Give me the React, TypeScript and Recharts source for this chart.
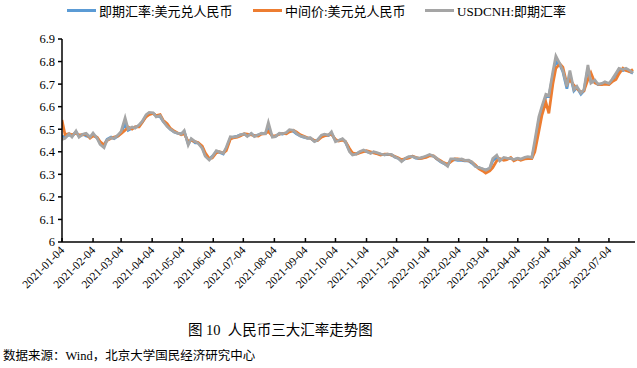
import React from "react";
import { Line, LineChart, XAxis, YAxis } from "recharts";

// sample dates (Mon / Thu), one line per month
const dates = [
  "2021-01-04", "2021-01-07", "2021-01-11", "2021-01-14", "2021-01-18", "2021-01-21", "2021-01-25", "2021-01-28",
  "2021-02-01", "2021-02-04", "2021-02-08", "2021-02-11", "2021-02-15", "2021-02-18", "2021-02-22", "2021-02-25",
  "2021-03-01", "2021-03-04", "2021-03-08", "2021-03-11", "2021-03-15", "2021-03-18", "2021-03-22", "2021-03-25", "2021-03-29",
  "2021-04-01", "2021-04-05", "2021-04-08", "2021-04-12", "2021-04-15", "2021-04-19", "2021-04-22", "2021-04-26", "2021-04-29",
  "2021-05-03", "2021-05-06", "2021-05-10", "2021-05-13", "2021-05-17", "2021-05-20", "2021-05-24", "2021-05-27", "2021-05-31",
  "2021-06-03", "2021-06-07", "2021-06-10", "2021-06-14", "2021-06-17", "2021-06-21", "2021-06-24", "2021-06-28",
  "2021-07-01", "2021-07-05", "2021-07-08", "2021-07-12", "2021-07-15", "2021-07-19", "2021-07-22", "2021-07-26", "2021-07-29",
  "2021-08-02", "2021-08-05", "2021-08-09", "2021-08-12", "2021-08-16", "2021-08-19", "2021-08-23", "2021-08-26", "2021-08-30",
  "2021-09-02", "2021-09-06", "2021-09-09", "2021-09-13", "2021-09-16", "2021-09-20", "2021-09-23", "2021-09-27", "2021-09-30",
  "2021-10-04", "2021-10-07", "2021-10-11", "2021-10-14", "2021-10-18", "2021-10-21", "2021-10-25", "2021-10-28",
  "2021-11-01", "2021-11-04", "2021-11-08", "2021-11-11", "2021-11-15", "2021-11-18", "2021-11-22", "2021-11-25", "2021-11-29",
  "2021-12-02", "2021-12-06", "2021-12-09", "2021-12-13", "2021-12-16", "2021-12-20", "2021-12-23", "2021-12-27", "2021-12-30",
  "2022-01-03", "2022-01-06", "2022-01-10", "2022-01-13", "2022-01-17", "2022-01-20", "2022-01-24", "2022-01-27", "2022-01-31",
  "2022-02-03", "2022-02-07", "2022-02-10", "2022-02-14", "2022-02-17", "2022-02-21", "2022-02-24", "2022-02-28",
  "2022-03-03", "2022-03-07", "2022-03-10", "2022-03-14", "2022-03-17", "2022-03-21", "2022-03-24", "2022-03-28", "2022-03-31",
  "2022-04-04", "2022-04-07", "2022-04-11", "2022-04-14", "2022-04-18", "2022-04-21", "2022-04-25", "2022-04-28",
  "2022-05-02", "2022-05-05", "2022-05-09", "2022-05-12", "2022-05-16", "2022-05-19", "2022-05-23", "2022-05-26", "2022-05-30",
  "2022-06-02", "2022-06-06", "2022-06-09", "2022-06-13", "2022-06-16", "2022-06-20", "2022-06-23", "2022-06-27", "2022-06-30",
  "2022-07-04", "2022-07-07", "2022-07-11", "2022-07-14", "2022-07-18", "2022-07-21", "2022-07-25", "2022-07-28",
];

// 即期汇率:美元兑人民币
const spot = [
  6.47, 6.465, 6.475, 6.47, 6.488, 6.47, 6.478, 6.47,
  6.465, 6.475, 6.462, 6.44, 6.43, 6.455, 6.465, 6.458,
  6.47, 6.485, 6.525, 6.495, 6.505, 6.51, 6.515, 6.53, 6.56,
  6.57, 6.57, 6.56, 6.555, 6.535, 6.515, 6.5, 6.488, 6.482,
  6.48, 6.49, 6.435, 6.455, 6.44, 6.44, 6.42, 6.385, 6.368,
  6.38, 6.4, 6.398, 6.39, 6.415, 6.46, 6.465, 6.47,
  6.475, 6.478, 6.47, 6.48, 6.47, 6.475, 6.48, 6.482, 6.505,
  6.467, 6.468, 6.48, 6.478, 6.483, 6.495, 6.49, 6.48, 6.47,
  6.465, 6.46, 6.46, 6.447, 6.452, 6.47, 6.475, 6.472, 6.482,
  6.45, 6.45, 6.455, 6.442, 6.405, 6.39, 6.392, 6.398,
  6.405, 6.4, 6.395, 6.398, 6.392, 6.39, 6.386, 6.388, 6.386,
  6.377, 6.37, 6.36, 6.37, 6.375, 6.38, 6.372, 6.37, 6.373,
  6.378, 6.385, 6.38, 6.368, 6.355, 6.348, 6.34, 6.362, 6.365,
  6.362, 6.362, 6.36, 6.36, 6.35, 6.335, 6.33, 6.322,
  6.32, 6.325, 6.36, 6.375, 6.362, 6.37, 6.37, 6.37, 6.365,
  6.37, 6.365, 6.372, 6.372, 6.372, 6.43, 6.54, 6.59,
  6.645, 6.645, 6.74, 6.8, 6.785, 6.755, 6.68, 6.745, 6.67,
  6.685, 6.655, 6.67, 6.77, 6.71, 6.71, 6.698, 6.7, 6.705,
  6.7, 6.715, 6.74, 6.765, 6.76, 6.765, 6.755, 6.748,
];

// 中间价:美元兑人民币
const mid = [
  6.541, 6.476, 6.48, 6.475, 6.482, 6.475, 6.475, 6.48,
  6.46, 6.47, 6.465, 6.445, 6.43, 6.45, 6.46, 6.465,
  6.47, 6.48, 6.495, 6.51, 6.5, 6.51, 6.51, 6.53, 6.555,
  6.565, 6.57, 6.56, 6.565, 6.54, 6.525, 6.505, 6.492, 6.485,
  6.475, 6.48, 6.445, 6.45, 6.445, 6.44, 6.425, 6.395, 6.37,
  6.372, 6.395, 6.4, 6.395, 6.405, 6.455, 6.462, 6.465,
  6.47, 6.48, 6.478, 6.475, 6.472, 6.47, 6.478, 6.48, 6.49,
  6.47, 6.47, 6.478, 6.482, 6.48, 6.488, 6.495, 6.488, 6.475,
  6.47, 6.462, 6.46, 6.45, 6.45, 6.465, 6.47, 6.475, 6.478,
  6.455, 6.448, 6.452, 6.445, 6.415, 6.395, 6.39, 6.395,
  6.4, 6.405, 6.4, 6.395, 6.39, 6.385, 6.39, 6.39, 6.385,
  6.38, 6.372, 6.365, 6.37, 6.372, 6.38, 6.376, 6.37, 6.372,
  6.376, 6.382, 6.382, 6.37, 6.36, 6.352, 6.345, 6.355, 6.368,
  6.368, 6.365, 6.362, 6.36, 6.355, 6.34, 6.325, 6.315,
  6.305, 6.315, 6.33, 6.36, 6.37, 6.362, 6.365, 6.375, 6.36,
  6.368, 6.362, 6.368, 6.37, 6.37, 6.4, 6.49, 6.56,
  6.62, 6.57, 6.7, 6.77, 6.79, 6.775, 6.7, 6.72, 6.695,
  6.68, 6.665, 6.67, 6.72, 6.75, 6.705, 6.7, 6.698, 6.7,
  6.698, 6.71, 6.72, 6.745, 6.77, 6.76, 6.755, 6.765,
];

// USDCNH:即期汇率
const cnh = [
  6.455, 6.46, 6.48, 6.465, 6.492, 6.465, 6.478, 6.482,
  6.465, 6.483, 6.46, 6.433, 6.418, 6.452, 6.462, 6.46,
  6.475, 6.49, 6.55, 6.5, 6.51, 6.505, 6.52, 6.535, 6.565,
  6.575, 6.573, 6.555, 6.56, 6.535, 6.512, 6.5, 6.488, 6.483,
  6.478, 6.494, 6.43, 6.458, 6.445, 6.437, 6.415, 6.38, 6.363,
  6.378, 6.405, 6.4, 6.393, 6.42, 6.467, 6.465, 6.468,
  6.475, 6.48, 6.468, 6.482, 6.467, 6.475, 6.482, 6.48, 6.53,
  6.465, 6.467, 6.482, 6.48, 6.485, 6.498, 6.495, 6.482, 6.47,
  6.467, 6.46, 6.462, 6.445, 6.452, 6.474, 6.478, 6.474, 6.489,
  6.445, 6.45, 6.458, 6.445, 6.4, 6.386, 6.39, 6.4,
  6.408, 6.402, 6.393, 6.4, 6.395, 6.39, 6.386, 6.39, 6.388,
  6.378, 6.37, 6.356, 6.372, 6.378, 6.378, 6.374, 6.372, 6.376,
  6.382, 6.388, 6.38, 6.372, 6.356, 6.35, 6.336, 6.368, 6.368,
  6.365, 6.368, 6.362, 6.363, 6.355, 6.334, 6.33, 6.325,
  6.318, 6.328, 6.37, 6.385, 6.36, 6.375, 6.372, 6.371, 6.366,
  6.372, 6.368, 6.375, 6.378, 6.375, 6.45, 6.555, 6.6,
  6.655, 6.65, 6.755, 6.825, 6.79, 6.76, 6.69, 6.76, 6.675,
  6.69, 6.66, 6.675, 6.785, 6.705, 6.718, 6.7, 6.703, 6.71,
  6.703, 6.72, 6.748, 6.77, 6.765, 6.77, 6.76, 6.75,
];

const xTicks = [
  "2021-01-04", "2021-02-04", "2021-03-04", "2021-04-04", "2021-05-04", "2021-06-04",
  "2021-07-04", "2021-08-04", "2021-09-04", "2021-10-04", "2021-11-04", "2021-12-04",
  "2022-01-04", "2022-02-04", "2022-03-04", "2022-04-04", "2022-05-04", "2022-06-04",
  "2022-07-04",
];
const yTicks = [6, 6.1, 6.2, 6.3, 6.4, 6.5, 6.6, 6.7, 6.8, 6.9];

const data = dates.map((d, i) => ({
  t: Date.parse(d),
  spot: spot[i],
  mid: mid[i],
  cnh: cnh[i],
}));

const FONT = "'Liberation Serif', 'Noto Sans CJK SC', serif";
const fmtDate = (v: number) => new Date(v).toISOString().slice(0, 10);

const XTick = (props: any) => {
  const { x, y, payload } = props;
  const tx = x + 3;
  const ty = y + 9;
  return (
    <g>
      <line x1={x} y1={y} x2={x} y2={y - 4} stroke="#000" strokeWidth={1.5} />
      <text
        x={tx}
        y={ty}
        transform={`rotate(-45 ${tx} ${ty})`}
        textAnchor="end"
        fontSize={11.5}
        fontFamily={FONT}
        fill="#000"
      >
        {fmtDate(payload.value)}
      </text>
    </g>
  );
};

const legendItems = [
  { name: "即期汇率:美元兑人民币", color: "#5b9bd5", left: 67 },
  { name: "中间价:美元兑人民币", color: "#ed7d31", left: 253 },
  { name: "USDCNH:即期汇率", color: "#a5a5a5", left: 425 },
];

export default function App() {
  return (
    <div
      style={{
        position: "absolute",
        left: 0,
        top: 0,
        width: 637,
        height: 368,
        background: "#fff",
        fontFamily: FONT,
        color: "#000",
      }}
    >
      {legendItems.map((it) => (
        <div
          key={it.name}
          style={{
            position: "absolute",
            left: it.left,
            top: 2,
            height: 16,
            display: "flex",
            alignItems: "center",
            fontSize: 13,
            whiteSpace: "nowrap",
          }}
        >
          <span
            style={{
              display: "inline-block",
              width: 29,
              height: 3,
              background: it.color,
              marginRight: 3,
            }}
          />
          {it.name}
        </div>
      ))}

      <LineChart
        width={637}
        height={315}
        data={data}
        margin={{ top: 39, right: 2, left: 0, bottom: 0 }}
      >
        <XAxis
          dataKey="t"
          type="number"
          domain={[Date.parse("2021-01-04"), Date.parse("2022-07-30")]}
          ticks={xTicks.map((d) => Date.parse(d))}
          tick={<XTick />}
          tickSize={0}
          tickMargin={0}
          tickLine={false}
          interval={0}
          height={73}
          axisLine={{ stroke: "#000", strokeWidth: 1.5 }}
          allowDataOverflow
        />
        <YAxis
          type="number"
          domain={[6, 6.9]}
          ticks={yTicks}
          interval={0}
          width={62}
          tickSize={4}
          tickMargin={3}
          tickFormatter={(v: number) => (v === 6 ? "6" : v.toFixed(1))}
          tick={{ fontSize: 12.5, fill: "#000", fontFamily: FONT }}
          tickLine={{ stroke: "#000", strokeWidth: 1.5 }}
          axisLine={{ stroke: "#000", strokeWidth: 1.5 }}
        />
        <Line
          type="linear"
          dataKey="spot"
          stroke="#5b9bd5"
          strokeWidth={2.75}
          dot={false}
          isAnimationActive={false}
        />
        <Line
          type="linear"
          dataKey="mid"
          stroke="#ed7d31"
          strokeWidth={2.75}
          dot={false}
          isAnimationActive={false}
        />
        <Line
          type="linear"
          dataKey="cnh"
          stroke="#a5a5a5"
          strokeWidth={2.75}
          dot={false}
          isAnimationActive={false}
        />
      </LineChart>

      <div
        style={{
          position: "absolute",
          left: 188,
          top: 318,
          fontSize: 14.5,
          whiteSpace: "nowrap",
        }}
      >
        图 10&nbsp;&nbsp;人民币三大汇率走势图
      </div>
      <div
        style={{
          position: "absolute",
          left: 3,
          top: 345,
          fontSize: 12.5,
          whiteSpace: "nowrap",
        }}
      >
        数据来源：Wind，北京大学国民经济研究中心
      </div>
    </div>
  );
}
